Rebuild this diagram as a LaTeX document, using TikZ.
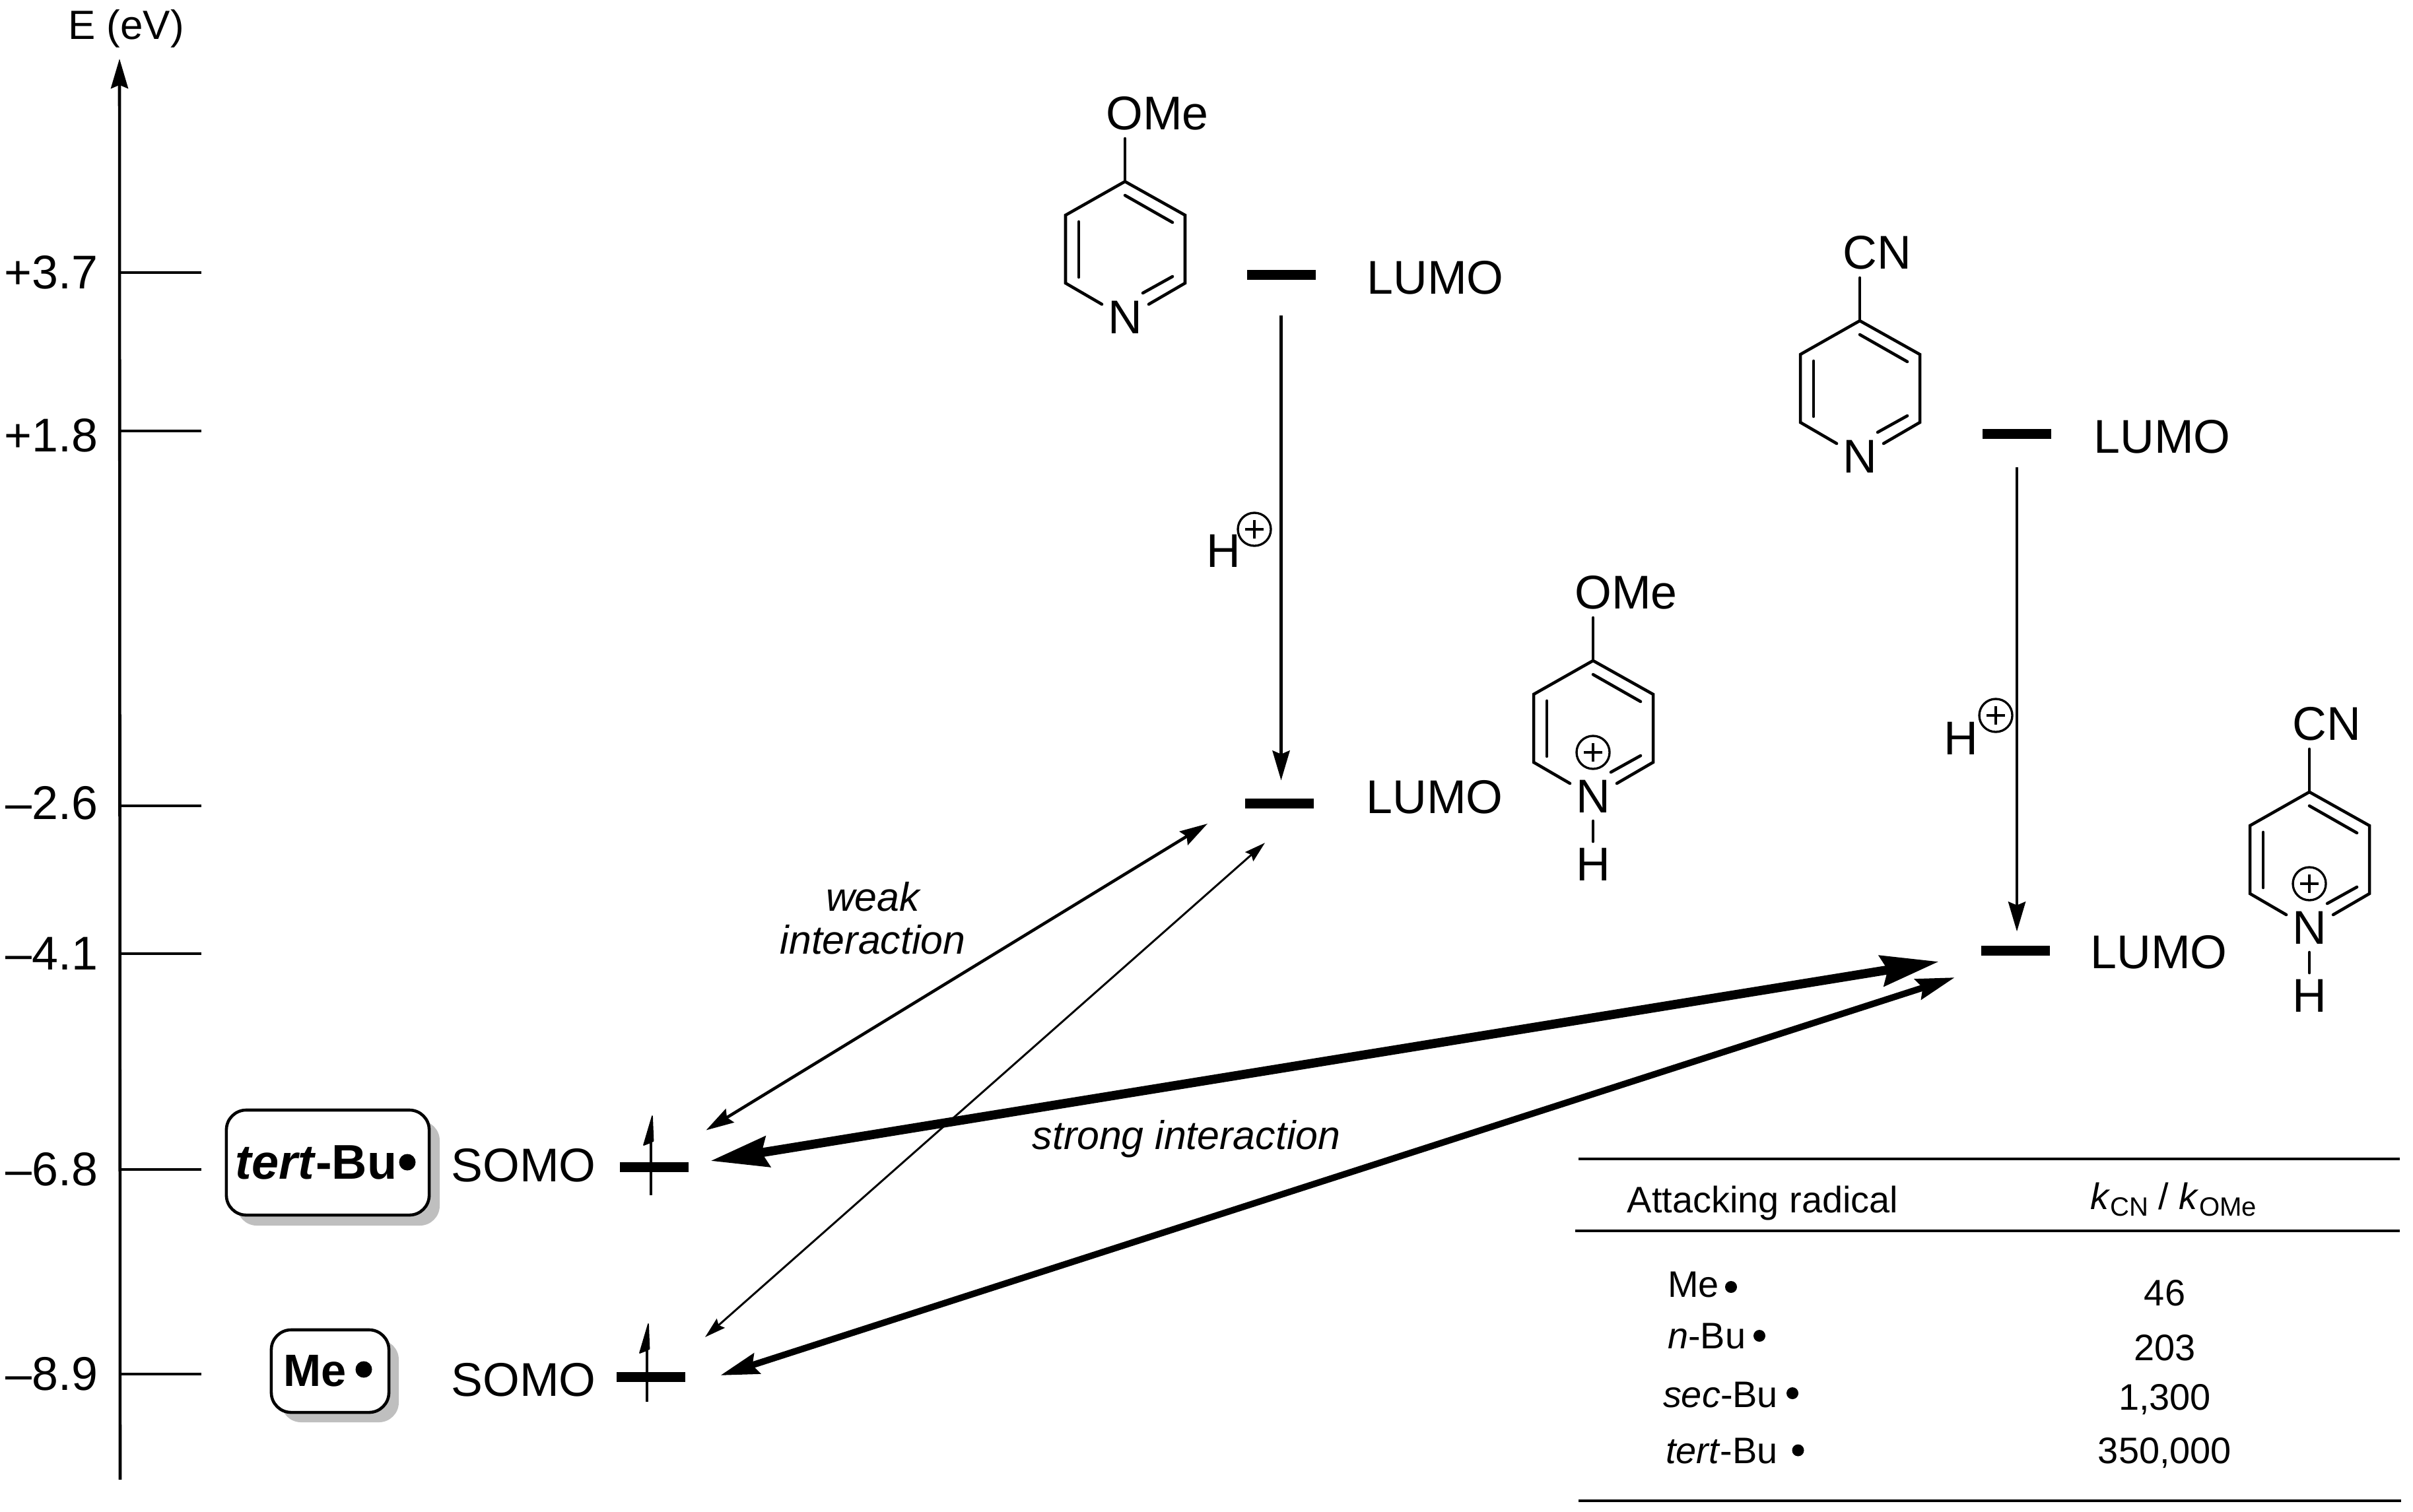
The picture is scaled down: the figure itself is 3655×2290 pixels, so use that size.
\documentclass[tikz,border=0pt]{standalone}
\usepackage{fontspec}
\setmainfont{Liberation Sans}
\usetikzlibrary{arrows.meta}
\newcommand{\fsz}[1]{\fontsize{#1}{#1}\selectfont}
\tikzset{
  x=0.01cm,y=-0.01cm,
  txt/.style={inner sep=0pt,outer sep=0pt,font=\fsz{20.4}},
  tabtxt/.style={inner sep=0pt,outer sep=0pt,anchor=base,font=\fsz{15.9}},
  tabname/.style={inner sep=0pt,outer sep=0pt,anchor=base west,font=\fsz{15.9}},
  ital/.style={inner sep=0pt,outer sep=0pt,font=\fsz{17.3}\itshape},
  bond/.style={line width=1.3pt,line cap=round},
  tick/.style={line width=1.1pt},
  level/.style={fill=black,inner sep=0pt,outer sep=0pt,minimum width=1.04cm,minimum height=0.15cm},
  plusring/.style={circle,draw,line width=.95pt,minimum size=0.5cm,inner sep=0pt,outer sep=0pt},
  radbox/.style={draw,fill=white,line width=1.3pt,rounded corners=0.3cm,inner sep=0pt,font=\fsz{21}\bfseries},
  radshadow/.style={fill=black!25,rounded corners=0.3cm},
  raddot/.style={circle,fill=black,inner sep=0pt,outer sep=0pt},
  vertarrow/.style={line width=1.35pt,arrows={-Stealth[length=12.8pt,width=7.4pt,inset=1.5pt]}},
  weakarrow/.style={line width=1.3pt,arrows={Stealth[length=12pt,width=6.8pt,inset=1.5pt]-Stealth[length=12pt,width=6.8pt,inset=1.5pt]}},
  faintarrow/.style={line width=.85pt,arrows={Stealth[length=9pt,width=5.2pt,inset=1.2pt]-Stealth[length=9pt,width=5.2pt,inset=1.2pt]}},
  boldarrow/.style={line width=2.8pt,arrows={Stealth[length=16.5pt,width=9pt,inset=2pt]-Stealth[length=16.5pt,width=9pt,inset=2pt]}},
  heavyarrow/.style={line width=3.9pt,arrows={Stealth[length=24.8pt,width=13pt,inset=2.5pt]-Stealth[length=24.8pt,width=13pt,inset=2.5pt]}},
  rulerule/.style={line width=1.1pt},
}
% #1 name prefix, #2,#3 position of ring apex, #4 substituent, #5 x offset of substituent
\newcommand{\PyrRing}[5]{%
  \begin{scope}[shift={(#2,#3)}]
    \coordinate (#1t) at (0,0);
    \coordinate (#1ul) at (-90,51);
    \coordinate (#1ur) at (91,51);
    \coordinate (#1ll) at (-90,154);
    \coordinate (#1lr) at (91,154);
    \node[txt] (#1N) at (0,206) {N};
    \node[txt] (#1S) at (#5,-103) {#4};
    \draw[bond] (#1t) -- (0,-65);
    \draw[bond,line join=miter] (-35,186) -- (#1ll) -- (#1ul) -- (#1t) -- (#1ur) -- (#1lr) -- (36,186);
    \draw[bond] (0,21) -- (72,62);
    \draw[bond] (-70,61) -- (-70,145);
    \draw[bond] (27,169) -- (72,144);
  \end{scope}}
\newcommand{\PlusSign}[3]{%
  \node[plusring] (#1) at (#2,#3) {};
  \draw[line width=.95pt] ([xshift=-0.14cm]#1.center) -- ([xshift=0.14cm]#1.center);
  \draw[line width=.95pt] ([yshift=-0.14cm]#1.center) -- ([yshift=0.14cm]#1.center);}
\newcommand{\NH}[3]{%
  \begin{scope}[shift={(#2,#3)}]
    \node[txt] (#1H) at (0,309) {H};
    \draw[bond] (0,243) -- (0,274);
  \end{scope}
  \PlusSign{#1P}{#2}{#3+139}}
\newcommand{\Spin}[4]{% name x ybottom ytop
  \begin{scope}[shift={(#2,#4)}]
    \draw[line width=1.3pt] (-1,#3-#4) -- (-1,30);
    \fill[line join=round,draw=black,line width=.5pt] (1,1) -- (2.5,39) -- (-4,42) -- (-12,45) -- cycle;
  \end{scope}}
\begin{document}
\begin{tikzpicture}
\useasboundingbox (0,0) rectangle (3655,2290);
% axis
\coordinate (axbot) at (182,2242);
\coordinate (axtop) at (181,89);
\draw[line width=1.3pt,arrows={-Stealth[length=12.8pt,width=7.4pt,inset=1.5pt]}] (axbot) -- (axtop);
\node[inner sep=0pt,anchor=base,font=\fsz{17.6}] (axlab) at (191,59) {E (eV)};
% ticks
\foreach \nm/\yy/\ly/\lab in {a/413/413/+3.7,b/653/660/+1.8,c/1221/1217/--2.6,d/1445/1445/--4.1,e/1772/1772/--6.8,f/2082/2082/--8.9}{
  \draw[tick] (182,\yy) -- (305,\yy);
  \node[txt,anchor=east] (tick\nm) at (148,\ly) {\lab};
}
% rings
\PyrRing{ra}{1704}{275}{OMe}{49}
\PyrRing{rb}{2413}{1001}{OMe}{50}
\NH{rb}{2413}{1001}
\PyrRing{rc}{2817}{486}{CN}{26}
\PyrRing{rd}{3498}{1200}{CN}{26}
\NH{rd}{3498}{1200}
% levels
\node[level] (barA) at (1940.5,416.5) {};
\node[level] (barB) at (1938,1217) {};
\node[level] (barC) at (3055,657.5) {};
\node[level] (barD) at (3052.5,1440) {};
\node[level] (barT) at (991,1768) {};
\node[level] (barM) at (986,2086.5) {};
\node[txt] (lumoA) at (2174,421) {LUMO};
\node[txt] (lumoB) at (2173,1208) {LUMO};
\node[txt] (lumoC) at (3275,662) {LUMO};
\node[txt] (lumoD) at (3270,1443) {LUMO};
\node[txt] (somoT) at (793,1766) {SOMO};
\node[txt] (somoM) at (793,2091) {SOMO};
% electron spins
\Spin{spT}{987}{1811}{1690}
\Spin{spM}{981}{2124}{2005}
% radical boxes
\fill[radshadow] (359,1698) rectangle (666,1857);
\node[radbox,minimum width=3.07cm,minimum height=1.59cm] (boxT) at (496.5,1761.5) {\textit{tert}-Bu\hspace*{10pt}};
\node[raddot,minimum size=0.25cm] (dotT) at (617,1761) {};
\fill[radshadow] (426,2030) rectangle (604,2155);
\node[radbox,minimum width=1.78cm,minimum height=1.25cm] (boxM) at (500,2077.5) {\fsz{19.5}Me\hspace*{12.8pt}};
\node[raddot,minimum size=0.25cm] (dotM) at (551,2075) {};
% H+ arrows
\draw[vertarrow,shorten <=15.4pt,shorten >=7.7pt] (barA.south) -- (barA.south |- barB.north);
\node[txt] (hA) at (1853,835) {H};
\PlusSign{hAp}{1900}{802}
\draw[vertarrow,shorten <=12.2pt,shorten >=6pt] (barC.south) -- (barC.south |- barD.north);
\node[txt] (hC) at (2970,1119) {H};
\PlusSign{hCp}{3023}{1084}
% interaction arrows
\draw[weakarrow] ([shift={(78.5,-55.5)}]barT.center) -- ([shift={(-109,31)}]barB.center);
\draw[faintarrow] ([shift={(82,-60.5)}]barM.center) -- ([shift={(-22,60)}]barB.center);
\draw[boldarrow] ([shift={(105,-2.5)}]barM.center) -- ([shift={(-91.5,41)}]barD.center);
\draw[heavyarrow] ([shift={(85,-9)}]barT.center) -- ([shift={(-115.5,17)}]barD.center);
\node[ital] (weak1) at (1322,1359) {weak};
\node[ital] (weak2) at (1322,1424) {interaction};
\node[ital] (strong) at (1797,1726) {strong interaction};
% table
\draw[rulerule] (2391,1756) -- (3635,1756);
\draw[rulerule] (2386,1865) -- (3635,1865);
\draw[rulerule] (2391,2274) -- (3637,2274);
\node[tabtxt] (thA) at (2670,1837) {Attacking radical};
\node[tabtxt] (thB) at (3292,1832) {\textit{k}\raisebox{-3.1pt}{\fsz{11.4}CN} / \textit{k}\raisebox{-3.1pt}{\fsz{11.4}OMe}};
\node[tabname] (t1) at (2526,1965) {Me};
\node[tabname] (t2) at (2526,2043) {\textit{n}-Bu};
\node[tabname] (t3) at (2519,2132) {\textit{sec}-Bu};
\node[tabname] (t4) at (2523,2217.5) {\textit{tert}-Bu};
\node[raddot,minimum size=0.18cm] (d1) at (2622,1950) {};
\node[raddot,minimum size=0.18cm] (d2) at (2665,2024) {};
\node[raddot,minimum size=0.18cm] (d3) at (2715,2111) {};
\node[raddot,minimum size=0.18cm] (d4) at (2723.5,2197.5) {};
\node[tabtxt] (v1) at (3279,1978.5) {46};
\node[tabtxt] (v2) at (3279,2061) {203};
\node[tabtxt] (v3) at (3279,2136.6) {1,300};
\node[tabtxt] (v4) at (3279,2217.5) {350,000};
\end{tikzpicture}
\end{document}
